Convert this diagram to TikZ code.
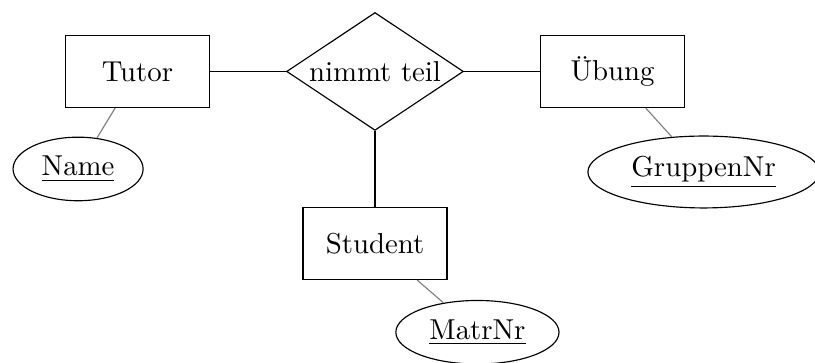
\documentclass[tikz,border=0pt]{standalone}
\usepackage{tikz}
\usetikzlibrary{shapes.geometric}
\tikzstyle{entity} = [rectangle, minimum width = 5em, minimum height = 2.5em, text centered, draw = black]
\tikzstyle{relation} = [diamond, aspect = 1.5, inner sep = 1pt, text centered, draw = black]
\tikzstyle{attribute} = [ellipse, text centered, draw = black]
\tikzstyle{attrline} = [gray]
\begin{document}
\begin{tikzpicture}[node distance = 2.9cm]

\useasboundingbox (-1.677,0.872) rectangle (8.27,-3.557);

\node(tutor) [entity] at (0,0) {Tutor};
\node(nimmt) [relation, right of = tutor] {nimmt teil};
\node(uebung) [entity, right of = nimmt] {Übung};
\node(student) [entity, below of = nimmt, yshift = 0.8cm] {Student};
\node(name) [attribute, below of = tutor, xshift = -0.724cm, yshift = 1.71cm] {\underline{Name}};
\node(gruppennr) [attribute, below of = uebung, xshift = 1.11cm, yshift = 1.673cm] {\underline{GruppenNr}};
\node(matrnr) [attribute, below of = student, xshift = 1.25cm, yshift = 1.817cm] {\underline{MatrNr}};

\draw (tutor) -- (nimmt);
\draw (nimmt) -- (uebung);
\draw (nimmt) -- (student);
\draw [attrline] (name) -- (tutor);
\draw [attrline] (gruppennr) -- (uebung);
\draw [attrline] (matrnr) -- (student);

\end{tikzpicture}
\end{document}
